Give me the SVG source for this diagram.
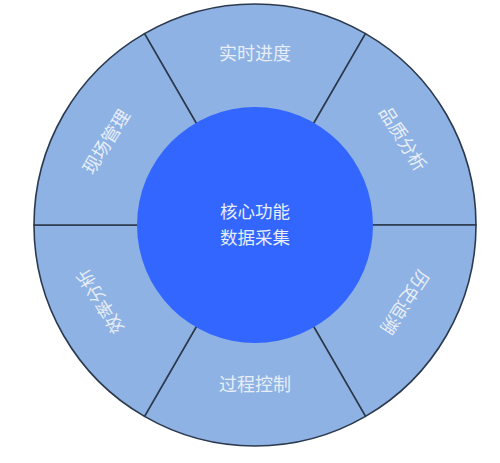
<svg xmlns="http://www.w3.org/2000/svg" width="500" height="463" viewBox="0 0 500 463">
<style>
.seg{fill:#8eb2e3;stroke:#2c3a4e;stroke-width:1.6;stroke-linejoin:round}
.lbl{font-family:"Noto Sans CJK SC","Noto Sans CJK JP",sans-serif;font-size:18px;fill:#e8eef8;text-anchor:middle;dominant-baseline:central}
.core{font-size:17.5px}
</style>
<rect width="500" height="463" fill="#ffffff"/>
<g id="connectors"></g>
<g id="seg-top"><path class="seg" d="M255,225 L144.5,33.6 A221,221 0 0 1 365.5,33.6 Z"/><text class="lbl" transform="translate(255,52)">实时进度</text></g>
<g id="seg-upper-right"><path class="seg" d="M255,225 L365.5,33.6 A221,221 0 0 1 476,225 Z"/><text class="lbl" transform="translate(404,138) rotate(58)">品质分析</text></g>
<g id="seg-lower-right"><path class="seg" d="M255,225 L476,225 A221,221 0 0 1 365.5,416.4 Z"/><text class="lbl" transform="translate(406,303) rotate(123)">历史追溯</text></g>
<g id="seg-bottom"><path class="seg" d="M255,225 L365.5,416.4 A221,221 0 0 1 144.5,416.4 Z"/><text class="lbl" transform="translate(255,383)">过程控制</text></g>
<g id="seg-lower-left"><path class="seg" d="M255,225 L144.5,416.4 A221,221 0 0 1 34,225 Z"/><text class="lbl" transform="translate(99,302) rotate(-122)">效率分析</text></g>
<g id="seg-upper-left"><path class="seg" d="M255,225 L34,225 A221,221 0 0 1 144.5,33.6 Z"/><text class="lbl" transform="translate(105,141) rotate(-58)">现场管理</text></g>
<g id="core"><circle cx="255" cy="225" r="118" fill="#3366ff"/><text class="lbl core" x="255" y="210.5">核心功能</text><text class="lbl core" x="255" y="236">数据采集</text></g>
</svg>
